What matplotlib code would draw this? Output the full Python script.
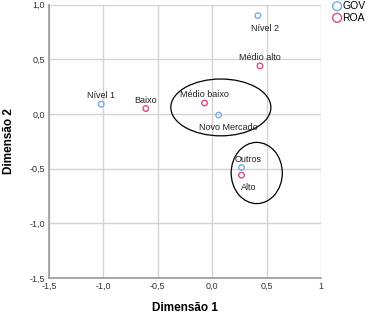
import matplotlib
matplotlib.use("Agg")
import matplotlib.pyplot as plt
from matplotlib.patches import Ellipse

plt.rcParams["font.family"] = ["Liberation Sans", "DejaVu Sans"]

# category points (Dimensão 1, Dimensão 2)
gov_labels = ["Nível 1", "Nível 2", "Novo Mercado", "Outros"]
gov_x = [-1.02, 0.42, 0.06, 0.27]
gov_y = [0.09, 0.90, -0.01, -0.49]

roa_labels = ["Baixo", "Médio baixo", "Médio alto", "Alto"]
roa_x = [-0.61, -0.07, 0.44, 0.27]
roa_y = [0.05, 0.10, 0.44, -0.56]

ticks = [-1.5, -1.0, -0.5, 0.0, 0.5, 1.0]
xtick_labels = ["-1,5", "-1,0", "-0,5", "0,0", "0,5", "1"]
ytick_labels = ["-1,5", "-1,0", "-0,5", "0,0", "0,5", "1,0"]

BLUE = "#7AAAEA"
RED = "#E44A72"

fig = plt.figure(figsize=(3.71, 3.14), dpi=100)
ax = fig.add_axes([0.132, 0.115, 0.733, 0.87])

ax.scatter(gov_x, gov_y, s=16, facecolors="none", edgecolors=BLUE, linewidths=1.0, label="GOV", zorder=3)
ax.scatter(roa_x, roa_y, s=16, facecolors="none", edgecolors=RED, linewidths=1.0, label="ROA", zorder=3)

# label offsets in points (dx, dy)
gov_off = [(0, 6), (5, -9), (7, -9), (5, 6)]
roa_off = [(0, 6), (0, 6), (0, 6), (5, -9)]
for lab, x, y, off in zip(gov_labels, gov_x, gov_y, gov_off):
    ax.annotate(lab, (x, y), xytext=off, textcoords="offset points",
                ha="center", va="center", fontsize=6.5, color="#222222")
for lab, x, y, off in zip(roa_labels, roa_x, roa_y, roa_off):
    ax.annotate(lab, (x, y), xytext=off, textcoords="offset points",
                ha="center", va="center", fontsize=6.5, color="#222222")

# grouping ellipses
ax.add_patch(Ellipse((0.08, 0.06), 0.92, 0.52, fill=False, edgecolor="black", linewidth=0.9))
ax.add_patch(Ellipse((0.41, -0.54), 0.47, 0.56, fill=False, edgecolor="black", linewidth=0.9))

ax.set_xlim(-1.5, 1.0)
ax.set_ylim(-1.5, 1.0)
ax.set_xticks(ticks)
ax.set_xticklabels(xtick_labels)
ax.set_yticks(ticks)
ax.set_yticklabels(ytick_labels)
ax.tick_params(labelsize=6.5, length=0, pad=3, colors="#333333")
ax.grid(True, color="#d4d4d4", linewidth=1.0)
ax.set_axisbelow(True)
for side in ["top", "right"]:
    ax.spines[side].set_visible(False)
for side in ["left", "bottom"]:
    ax.spines[side].set_color("#999999")
    ax.spines[side].set_linewidth(1.2)

ax.set_xlabel("Dimensão 1", fontsize=8.5, fontweight="bold", labelpad=8)
ax.set_ylabel("Dimensão 2", fontsize=8.5, fontweight="bold", labelpad=10)

fig.legend(loc="upper left", bbox_to_anchor=(0.875, 1.02), frameon=False,
           fontsize=7.5, handletextpad=0.0, borderpad=0.2, labelspacing=0.15,
           handlelength=1.0, markerscale=1.6)

fig.savefig("out.png", dpi=100)
